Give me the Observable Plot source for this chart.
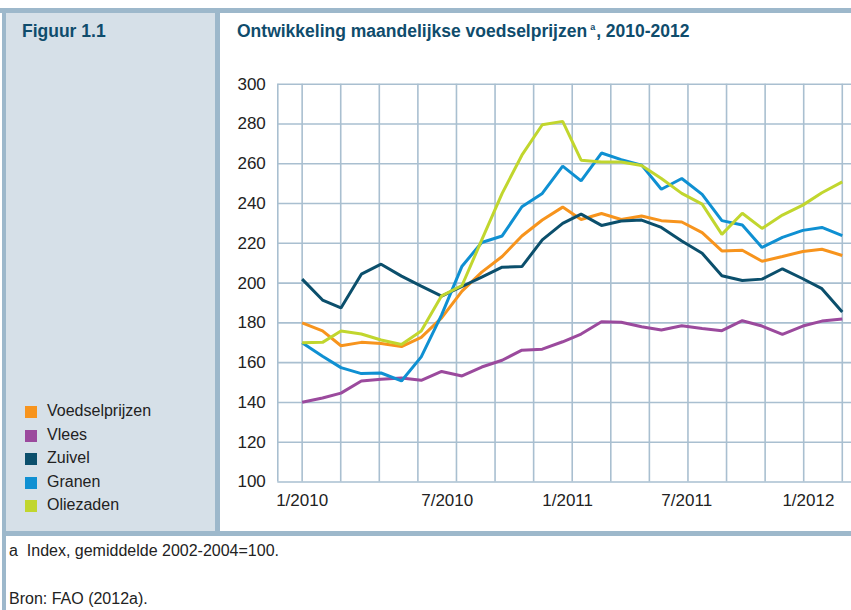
<!DOCTYPE html>
<html>
<head>
<meta charset="utf-8">
<script src="https://cdn.jsdelivr.net/npm/d3@7"></script>
<script src="https://cdn.jsdelivr.net/npm/@observablehq/plot@0.6"></script>
<style>
  html, body { margin: 0; padding: 0; background: #fff; }
  body { width: 851px; height: 610px; position: relative; overflow: hidden;
         font-family: "Liberation Sans", Arial, sans-serif; color: #222; }
  .band { position: absolute; background: #9db8cb; }
  #leftpanel { position: absolute; left: 6px; top: 13px; width: 209px; height: 518px; background: #d6e0e8; }
  .head { position: absolute; top: 21px; font-weight: bold; font-size: 17.5px; color: #0f4c6c; white-space: nowrap; }
  .head sup { font-size: 9px; vertical-align: 7px; margin: 0 1px 0 3px; }
  #legend { position: absolute; left: 25px; top: 400px; }
  .item { position: relative; height: 23.6px; font-size: 16px; white-space: nowrap; }
  .item .sw { position: absolute; left: 0; top: 6px; width: 12px; height: 12px; }
  .item .lb { position: absolute; left: 22px; top: 2px; }
  #chart { position: absolute; left: 220px; top: 60px; }
  .note { position: absolute; left: 9px; font-size: 16px; color: #222; white-space: nowrap; }
</style>
</head>
<body>
<div class="band" style="left:0;top:8px;width:851px;height:5px"></div>
<div class="band" style="left:2px;top:8px;width:4px;height:602px"></div>
<div id="leftpanel"></div>
<div class="band" style="left:215px;top:13px;width:5px;height:518px"></div>
<div class="band" style="left:2px;top:531px;width:849px;height:5px"></div>
<div class="head" style="left:22px">Figuur 1.1</div>
<div class="head" style="left:237px">Ontwikkeling maandelijkse voedselprijzen<sup>a</sup>, 2010-2012</div>
<div id="legend"></div>
<div id="chart"></div>
<div class="note" style="top:542px">a&nbsp;&nbsp;Index, gemiddelde 2002-2004=100.</div>
<div class="note" style="top:590px">Bron: FAO (2012a).</div>
<script>
// ---- data ----
const months = ["2010-01","2010-02","2010-03","2010-04","2010-05","2010-06","2010-07","2010-08","2010-09","2010-10","2010-11","2010-12",
                "2011-01","2011-02","2011-03","2011-04","2011-05","2011-06","2011-07","2011-08","2011-09","2011-10","2011-11","2011-12",
                "2012-01","2012-02","2012-03","2012-04"];
const voedselprijzen = [180, 176, 168.5, 170.2, 169.6, 168.1, 172.7, 182.5, 196, 205.5, 213.4, 223.7, 231.7, 238.2, 232, 235, 232, 233.7, 231.4, 230.7, 225.4, 216.2, 216.5, 211, 213.4, 215.9, 217, 213.9];
const vlees = [140.1, 142.2, 144.7, 150.8, 151.6, 152.3, 151.1, 155.6, 153.3, 157.8, 161.2, 166.3, 166.8, 170.5, 174.4, 180.6, 180.3, 178.1, 176.4, 178.6, 177.2, 176.1, 181.1, 178.4, 174.2, 178.4, 180.9, 181.9];
const zuivel = [202, 191.5, 187.5, 204.5, 209.5, 203.5, 198.5, 193.5, 198.3, 203, 208, 208.3, 221.7, 230, 234.7, 229, 231.2, 231.7, 228, 221.2, 215, 203.7, 201.3, 202, 207.2, 202.2, 197.2, 185.5];
const granen = [170, 163.2, 157.5, 154.5, 154.8, 150.8, 162.9, 184, 208.5, 220.4, 223.7, 238.4, 245.1, 258.8, 251.4, 265.4, 262.1, 259.3, 247.2, 252.6, 244.6, 231.4, 229.2, 217.9, 223, 226.5, 228, 223.9];
const oliezaden = [170, 170.2, 175.9, 174.4, 171.4, 169.1, 175.9, 193.6, 198.8, 221.7, 245.1, 264.3, 279.6, 281.3, 261.8, 260.9, 260.9, 259.1, 252.6, 245.1, 239.7, 224.5, 235.1, 227.5, 234.2, 239.2, 245.4, 250.9];
const seriesNames = ["Voedselprijzen", "Vlees", "Zuivel", "Granen", "Oliezaden"];
const seriesColors = ["#f7941d", "#9b4a9d", "#0b4f6c", "#0f90d2", "#c1d62e"];
const xTickLabels = ["1/2010", "7/2010", "1/2011", "7/2011", "1/2012"];
const yTicks = [100, 120, 140, 160, 180, 200, 220, 240, 260, 280, 300];
const gridIntervals = 14;

// ---- build ----
const parseMonth = d3.utcParse("%Y-%m");
const dates = months.map(parseMonth);
const valuesBySeries = [voedselprijzen, vlees, zuivel, granen, oliezaden];
const rows = [];
seriesNames.forEach((name, s) => valuesBySeries[s].forEach((v, i) => rows.push({series: name, date: dates[i], value: v})));

const tickDates = xTickLabels.map(l => { const [m, y] = l.split("/").map(Number); return new Date(Date.UTC(y, m - 1, 1)); });
const labelOf = d => xTickLabels[tickDates.findIndex(t => +t === +d)];

const t0 = +dates[0], t1 = +dates[dates.length - 1];
const gridDates = d3.range(gridIntervals + 1).map(k => new Date(t0 + k * (t1 - t0) / gridIntervals));
const xDomain = [d3.utcDay.offset(dates[0], -37), d3.utcDay.offset(dates[dates.length - 1], 14)];

const gridColor = "#a9bfd0";
const chart = Plot.plot({
  width: 631,
  height: 462,
  marginLeft: 57.3,
  marginRight: 0,
  marginTop: 23.7,
  marginBottom: 40.5,
  style: {fontFamily: "Liberation Sans, Arial, sans-serif", fontSize: "17px", color: "#222", background: "transparent", overflow: "visible"},
  x: {type: "utc", domain: xDomain, axis: null},
  y: {domain: [100, 300], axis: null},
  color: {domain: seriesNames, range: seriesColors},
  marks: [
    Plot.ruleY(yTicks, {stroke: gridColor, strokeWidth: 1.6, strokeOpacity: 1}),
    Plot.ruleX(gridDates, {stroke: gridColor, strokeWidth: 1.6, strokeOpacity: 1}),
    Plot.ruleX([xDomain[0]], {stroke: gridColor, strokeWidth: 1.6, strokeOpacity: 1}),
    Plot.axisY(yTicks, {tickSize: 0, tickPadding: 12, fontSize: 17, fill: "#222", label: null}),
    Plot.axisX(tickDates.slice(0, 1), {tickSize: 0, tickPadding: 12, fontSize: 17, fill: "#222", tickFormat: labelOf, label: null}),
    Plot.axisX(tickDates.slice(1), {tickSize: 0, tickPadding: 12, fontSize: 17, fill: "#222", textAnchor: "start", tickFormat: labelOf, label: null}),
    Plot.line(rows, {x: "date", y: "value", z: "series", stroke: "series", strokeWidth: 3, strokeLinejoin: "miter", strokeLinecap: "butt"})
  ]
});
document.getElementById("chart").appendChild(chart);

// legend
const legend = d3.select("#legend");
seriesNames.forEach((name, i) => {
  const it = legend.append("div").attr("class", "item");
  it.append("div").attr("class", "sw").style("background", seriesColors[i]);
  it.append("div").attr("class", "lb").text(name);
});
</script>
</body>
</html>
